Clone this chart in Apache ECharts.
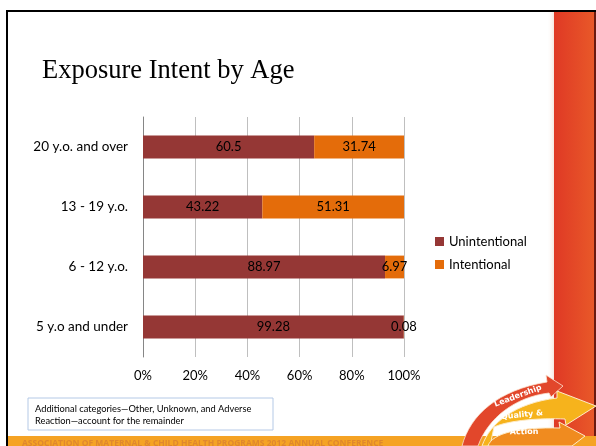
<!DOCTYPE html>
<html>
<head>
<meta charset="utf-8">
<script src="https://cdn.jsdelivr.net/npm/echarts@6/dist/echarts.min.js"></script>
<style>
  html, body { margin: 0; padding: 0; background: #fff; }
  #main { width: 596px; height: 446px; }
</style>
</head>
<body>
<div id="main"></div>
<script>
// age groups, bottom to top as drawn
const ageGroups = ['5 y.o and under', '6 - 12 y.o.', '13 - 19 y.o.', '20 y.o. and over'];
const unintentional = [99.28, 88.97, 43.22, 60.5];
const intentional = [0.08, 6.97, 51.31, 31.74];
const xTicks = [0, 20, 40, 60, 80, 100];

const font = 'Lato, "Open Sans", sans-serif';

// 100% stacked: each bar is scaled to its own total
function share(arr, i) {
    return arr[i] / (unintentional[i] + intentional[i]) * 100;
}

// sample a cubic bezier into polygon points (for the logo decoration)
function bez(p0, p1, p2, p3) {
    const pts = [];
    for (let k = 0; k <= 16; k++) {
        const t = k / 16, u = 1 - t;
        pts.push([
            u * u * u * p0[0] + 3 * u * u * t * p1[0] + 3 * u * t * t * p2[0] + t * t * t * p3[0],
            u * u * u * p0[1] + 3 * u * u * t * p1[1] + 3 * u * t * t * p2[1] + t * t * t * p3[1]
        ]);
    }
    return pts;
}

const redArrow = [].concat(
    bez([462, 446], [470, 415], [498, 390], [547, 382]),
    [[546, 375], [563, 386], [551, 397], [549, 393]],
    bez([549, 393], [515, 397], [488, 418], [478, 446])
);
const yellowArrow = [].concat(
    bez([482, 446], [490, 423], [515, 403], [557, 398]),
    [[557, 391], [596, 406], [566, 425], [565, 419]],
    bez([565, 419], [540, 418], [510, 420], [494, 427]),
    [[490, 446]]
);
const orangeArrow = [].concat(
    bez([488, 446], [492, 433], [520, 427], [560, 428]),
    [[559, 422], [585, 436], [572, 446]]
);

const chart = echarts.init(document.getElementById('main'));

function seriesFor(name, arr, color) {
    return {
        name: name,
        type: 'bar',
        stack: 'total',
        barWidth: '38%',
        itemStyle: {color: color},
        label: {
            show: true,
            position: 'inside',
            color: '#000',
            fontFamily: font,
            fontSize: 13,
            formatter: p => String(arr[p.dataIndex])
        },
        data: arr.map((v, i) => share(arr, i))
    };
}

chart.setOption({
    animation: false,
    title: {
        text: 'Exposure Intent by Age',
        left: 37,
        top: 53,
        textStyle: {fontFamily: '"Liberation Serif", serif', fontSize: 26.5, fontWeight: 'normal', color: '#000'}
    },
    legend: {
        orient: 'vertical',
        left: 430,
        top: 230,
        icon: 'rect',
        itemWidth: 9,
        itemHeight: 9,
        itemGap: 10,
        textStyle: {fontFamily: font, fontSize: 13, color: '#000'},
        data: ['Unintentional', 'Intentional']
    },
    grid: {left: 143, right: 192, top: 117, bottom: 89},
    xAxis: {
        type: 'value',
        min: xTicks[0],
        max: xTicks[xTicks.length - 1],
        interval: 20,
        axisLine: {show: false},
        axisTick: {show: false},
        splitLine: {lineStyle: {color: '#bfbfbf'}},
        axisLabel: {formatter: '{value}%', fontFamily: font, fontSize: 13, color: '#000', margin: 12}
    },
    yAxis: {
        type: 'category',
        data: ageGroups,
        axisLine: {lineStyle: {color: '#868686'}},
        axisTick: {length: 5, lineStyle: {color: '#868686'}},
        axisLabel: {fontFamily: font, fontSize: 13.5, color: '#000', margin: 15}
    },
    series: [
        seriesFor('Unintentional', unintentional, '#953735'),
        seriesFor('Intentional', intentional, '#e46c0a')
    ],
    graphic: [
        // slide frame
        {type: 'rect', shape: {x: 6, y: 10, width: 590, height: 2}, style: {fill: '#000'}, z: 100},
        {type: 'rect', shape: {x: 6, y: 10, width: 2, height: 436}, style: {fill: '#000'}, z: 100},
        // right red band
        {type: 'rect', shape: {x: 547, y: 12, width: 7, height: 424},
            style: {fill: new echarts.graphic.LinearGradient(0, 0, 1, 0, [{offset: 0, color: 'rgba(255,255,255,0)'}, {offset: 1, color: '#f7e6df'}])}, z: 90},
        {type: 'rect', shape: {x: 554, y: 12, width: 42, height: 434},
            style: {fill: new echarts.graphic.LinearGradient(0, 0, 1, 0, [{offset: 0, color: '#df3925'}, {offset: 1, color: '#e95a29'}])}, z: 90},
        {type: 'rect', shape: {x: 594, y: 12, width: 2, height: 434}, style: {fill: '#6b1a10'}, z: 91},
        // footer band
        {type: 'rect', shape: {x: 8, y: 436, width: 588, height: 10}, style: {fill: '#f5a324'}, z: 92},
        {type: 'text', x: 22, y: 439,
            style: {text: 'ASSOCIATION OF MATERNAL & CHILD HEALTH PROGRAMS 2012 ANNUAL CONFERENCE',
                font: 'bold 8.5px "Open Sans", sans-serif', fill: '#df872e'}, z: 93},
        // logo arrows
        {type: 'polygon', shape: {points: redArrow}, style: {fill: '#e2472b', stroke: '#fbe3d0', lineWidth: 0.8}, z: 94},
        {type: 'polygon', shape: {points: yellowArrow}, style: {fill: '#f6b31c', stroke: '#fdebc9', lineWidth: 1}, z: 95},
        {type: 'polygon', shape: {points: orangeArrow}, style: {fill: '#f08b1f', stroke: '#fdebc9', lineWidth: 1}, z: 96},
        {type: 'text', x: 518, y: 396, rotation: 0.36,
            style: {text: 'Leadership', font: 'bold 8px "DejaVu Sans", sans-serif', fill: '#fff', align: 'center', verticalAlign: 'middle'}, z: 97},
        {type: 'text', x: 522, y: 415, rotation: 0.1,
            style: {text: 'Quality &', font: 'bold 8px "DejaVu Sans", sans-serif', fill: '#fff', align: 'center', verticalAlign: 'middle'}, z: 97},
        {type: 'text', x: 524, y: 432, rotation: 0.02,
            style: {text: 'Action', font: 'bold 8px "DejaVu Sans", sans-serif', fill: '#fff', align: 'center', verticalAlign: 'middle'}, z: 97},
        // note box
        {type: 'rect', shape: {x: 28, y: 398, width: 245, height: 32}, style: {fill: '#fff', stroke: '#b4c9e6', lineWidth: 1}, z: 80},
        {type: 'text', x: 35, y: 403,
            style: {text: 'Additional categories\u2014Other, Unknown, and Adverse\nReaction\u2014account for the remainder',
                font: '9.3px ' + font, fill: '#000', lineHeight: 12}, z: 81}
    ]
});
</script>
</body>
</html>
